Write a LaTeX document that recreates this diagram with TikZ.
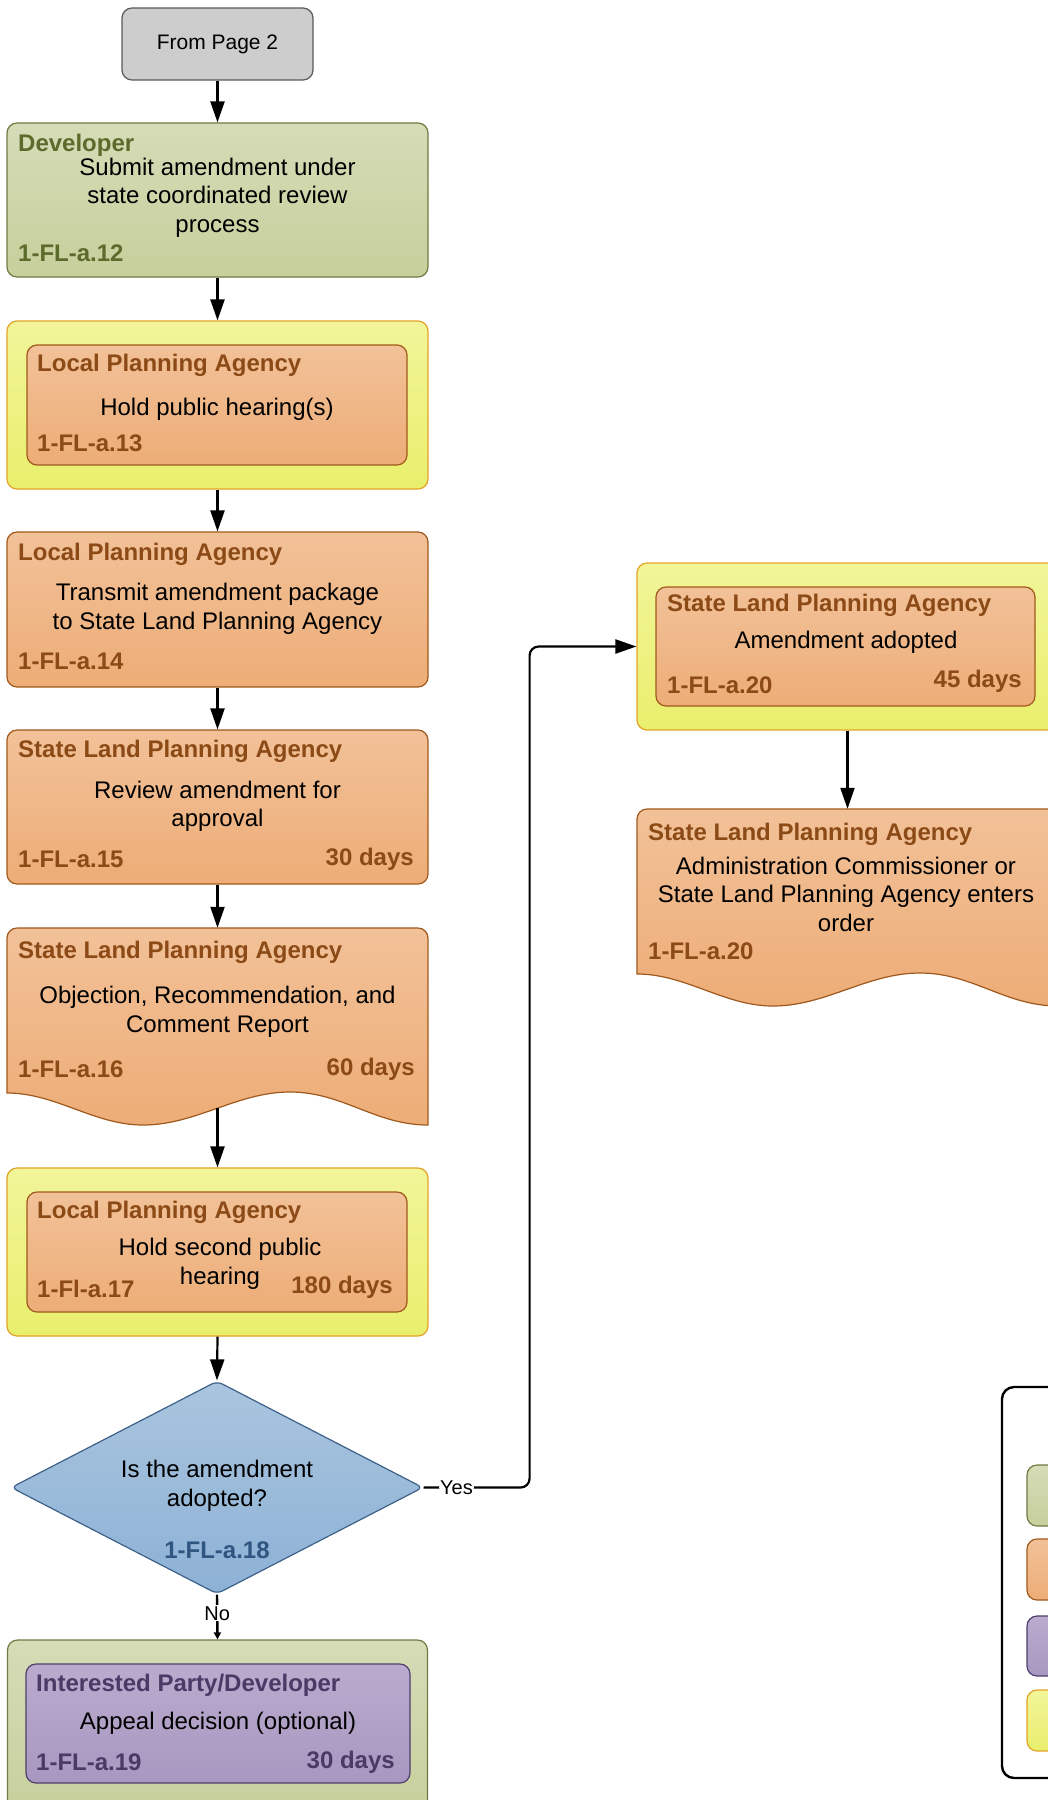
\documentclass[tikz,border=0pt]{standalone}
\usepackage{fontspec}
\setmainfont{Liberation Sans}
\usetikzlibrary{shapes.geometric,arrows.meta}
\definecolor{grnT}{HTML}{D5DCB7}
\definecolor{grnB}{HTML}{C7CF9C}
\definecolor{grnD}{HTML}{6F7B43}
\definecolor{grnTxt}{HTML}{5C6A2C}
\definecolor{orgT}{HTML}{F2C198}
\definecolor{orgB}{HTML}{EDAD77}
\definecolor{orgD}{HTML}{A0591C}
\definecolor{orgTxt}{HTML}{8B4A16}
\definecolor{ylwT}{HTML}{F2F599}
\definecolor{ylwB}{HTML}{E9EF6C}
\definecolor{ylwD}{HTML}{E2A426}
\definecolor{bluT}{HTML}{A9C5DF}
\definecolor{bluB}{HTML}{8DB1D5}
\definecolor{bluD}{HTML}{3D6189}
\definecolor{bluTxt}{HTML}{2F5680}
\definecolor{purT}{HTML}{BAABCE}
\definecolor{purB}{HTML}{A897C0}
\definecolor{purD}{HTML}{4E3F6D}
\definecolor{purTxt}{HTML}{4A3A66}
\definecolor{gryF}{HTML}{CDCDCD}
\definecolor{gryD}{HTML}{5A5A5A}
\tikzset{
  box/.style={rounded corners=10pt, line width=1.2pt, inner sep=0pt, shape=rectangle},
  greenbox/.style={box, draw=grnD, top color=grnT, bottom color=grnB},
  orangebox/.style={box, draw=orgD, top color=orgT, bottom color=orgB},
  yellowbox/.style={box, draw=ylwD, top color=ylwT, bottom color=ylwB},
  purplebox/.style={box, draw=purD, top color=purT, bottom color=purB},
  orangeshape/.style={line width=1.2pt, draw=orgD, top color=orgT, bottom color=orgB},
  ttl/.style={font=\bfseries\fontsize{24}{28.5}\selectfont, anchor=west, inner sep=0pt, yshift=-2pt},
  ttlr/.style={font=\bfseries\fontsize{24}{28.5}\selectfont, anchor=east, inner sep=0pt, yshift=-2pt},
  bodytxt/.style={font=\fontsize{24}{28.5}\selectfont, align=center, inner sep=0pt, yshift=-2.5pt},
  arr/.style={line width=2.2pt, -{Triangle[length=21pt,width=14pt]}},
  lbl/.style={font=\fontsize{20}{24}\selectfont, fill=white, inner sep=1pt},
}
\begin{document}
\begin{tikzpicture}[x=1pt,y=-1pt]
\useasboundingbox (0,0) rectangle (1048,1800);
\clip (0,0) rectangle (1048,1800);
\fill[white] (0,0) rectangle (1048,1800);

% From page 2
\node[box, draw=gryD, fill=gryF, minimum width=191pt, minimum height=72pt,
      font=\fontsize{21}{25}\selectfont] (fromP) at (217.5,44) {From Page 2};

% Developer
\node[greenbox, minimum width=421pt, minimum height=154pt] (dev) at (217.5,200) {};
\node[ttl, text=grnTxt] (devT) at (18,143) {Developer};
\node[bodytxt] (devB) at (217.5,195) {Submit amendment under\\state coordinated review\\process};
\node[ttl, text=grnTxt] (devC) at (18,251) {1-FL-a.12};

% Yellow 1
\node[yellowbox, minimum width=421pt, minimum height=168pt] (y1) at (217.5,405) {};
\node[orangebox, minimum width=380pt, minimum height=120pt] (o1) at (217,405) {};
\node[ttl, text=orgTxt] (o1T) at (37,363) {Local Planning Agency};
\node[bodytxt] (o1B) at (217,407) {Hold public hearing(s)};
\node[ttl, text=orgTxt] (o1C) at (37,441) {1-FL-a.13};

% LPA transmit
\node[orangebox, minimum width=421pt, minimum height=155pt] (lpa) at (217.5,609.5) {};
\node[ttl, text=orgTxt] (lpaT) at (18,552) {Local Planning Agency};
\node[bodytxt] (lpaB) at (217.5,606.5) {Transmit amendment package\\to State Land Planning Agency};
\node[ttl, text=orgTxt] (lpaC) at (18,659) {1-FL-a.14};

% SLPA review
\node[orangebox, minimum width=421pt, minimum height=154pt] (slr) at (217.5,807) {};
\node[ttl, text=orgTxt] (slrT) at (18,749) {State Land Planning Agency};
\node[bodytxt] (slrB) at (217.5,804) {Review amendment for\\approval};
\node[ttl, text=orgTxt] (slrC) at (18,857) {1-FL-a.15};
\node[ttlr, text=orgTxt] (slrD) at (414,857) {30 days};

% Document: objection report
\path[orangeshape] (7,1093) [rounded corners=10pt] -- (7,928) -- (428,928) [sharp corners] -- (428,1125)
  .. controls (375,1125) and (343,1092) .. (290,1092)
  .. controls (237,1092) and (196,1125) .. (143,1125)
  .. controls (94,1125) and (56,1093) .. (7,1093) -- cycle;
\node[minimum width=421pt, minimum height=197pt, inner sep=0pt] (docA) at (217.5,1026.5) {};
\coordinate (docAb) at (217.5,1108);
\node[ttl, text=orgTxt] (docAT) at (18,950) {State Land Planning Agency};
\node[bodytxt] (docAB) at (217.5,1009.5) {Objection, Recommendation, and\\Comment Report};
\node[ttl, text=orgTxt] (docAC) at (18,1067) {1-FL-a.16};
\node[ttlr, text=orgTxt] (docAD) at (415,1067) {60 days};

% Yellow 2
\node[yellowbox, minimum width=421pt, minimum height=168pt] (y2) at (217.5,1252) {};
\node[orangebox, minimum width=380pt, minimum height=120pt] (o2) at (217,1252) {};
\node[ttl, text=orgTxt] (o2T) at (37,1210) {Local Planning Agency};
\node[bodytxt] (o2B) at (220,1261.5) {Hold second public\\hearing};
\node[ttl, text=orgTxt] (o2C) at (37,1287) {1-Fl-a.17};
\node[ttlr, text=orgTxt] (o2D) at (393,1285) {180 days};

% Decision
\node[shape=diamond, rounded corners=6pt, line width=1.2pt, draw=bluD, top color=bluT, bottom color=bluB,
      minimum width=412pt, minimum height=213pt, inner sep=0pt] (dia) at (217,1487.5) {};
\node[bodytxt] (diaB) at (217,1483.5) {Is the amendment\\adopted?};
\node[font=\bfseries\fontsize{24}{28.5}\selectfont, text=bluTxt, inner sep=0pt, yshift=-2pt] (diaC) at (217,1548) {1-FL-a.18};

% Bottom green + purple
\node[greenbox, minimum width=420pt, minimum height=175pt] (gB) at (217.5,1727.5) {};
\node[purplebox, minimum width=384pt, minimum height=119pt] (pu) at (218,1723.5) {};
\node[ttl, text=purTxt] (puT) at (36,1683) {Interested Party/Developer};
\node[bodytxt] (puB) at (218,1721) {Appeal decision (optional)};
\node[ttl, text=purTxt] (puC) at (36,1760) {1-FL-a.19};
\node[ttlr, text=purTxt] (puD) at (395,1760) {30 days};

% Right yellow
\node[yellowbox, minimum width=421pt, minimum height=167pt] (yR) at (847.5,646.5) {};
\node[orangebox, minimum width=379pt, minimum height=119pt] (oR) at (845.5,646.5) {};
\node[ttl, text=orgTxt] (oRT) at (667,603) {State Land Planning Agency};
\node[bodytxt] (oRB) at (846,640) {Amendment adopted};
\node[ttl, text=orgTxt] (oRC) at (667,683) {1-FL-a.20};
\node[ttlr, text=orgTxt] (oRD) at (1022,679) {45 days};

% Right document
\path[orangeshape] (637,974) [rounded corners=10pt] -- (637,809) -- (1058,809) [sharp corners] -- (1058,1006)
  .. controls (1005,1006) and (973,973) .. (920,973)
  .. controls (867,973) and (826,1006) .. (773,1006)
  .. controls (724,1006) and (686,974) .. (637,974) -- cycle;
\node[minimum width=421pt, minimum height=198pt, inner sep=0pt] (docR) at (847.5,908) {};
\node[ttl, text=orgTxt] (docRT) at (648,832) {State Land Planning Agency};
\node[bodytxt] (docRB) at (846,891.5) {Administration Commissioner or\\State Land Planning Agency enters\\order};
\node[ttl, text=orgTxt] (docRC) at (648,949) {1-FL-a.20};

% Legend
\node[box, rounded corners=12pt, draw=black, line width=2.4pt, fill=white,
      minimum width=200pt, minimum height=391pt] (leg) at (1102,1582.5) {};
\node[greenbox, minimum width=120pt, minimum height=61pt] (legG) at (1087,1495.5) {};
\node[orangebox, minimum width=120pt, minimum height=61pt] (legO) at (1087,1569.5) {};
\node[purplebox, minimum width=120pt, minimum height=60pt] (legP) at (1087,1646) {};
\node[yellowbox, minimum width=120pt, minimum height=61pt] (legY) at (1087,1720.5) {};

% Connectors
\draw[arr] (fromP.south) -- (dev.north);
\draw[arr] (dev.south) -- (y1.north);
\draw[arr] (y1.south) -- (lpa.north);
\draw[arr] (lpa.south) -- (slr.north);
\draw[arr] (slr.south) -- (docA.north);
\draw[arr] (docAb) -- (y2.north);
\draw[arr] (y2.south) -- (dia.north);
\draw[line width=2.4pt, -{Triangle[length=7pt,width=7pt]}] (dia.south) -- node[lbl, pos=0.42] (noL) {No} (gB.north);
\draw[arr, rounded corners=9pt] (dia.east) -- node[lbl, pos=0.31] (yesL) {Yes} ++(106,0) |- (yR.west);
\draw[arr] (yR.south) -- (docR.north);
\end{tikzpicture}
\end{document}
